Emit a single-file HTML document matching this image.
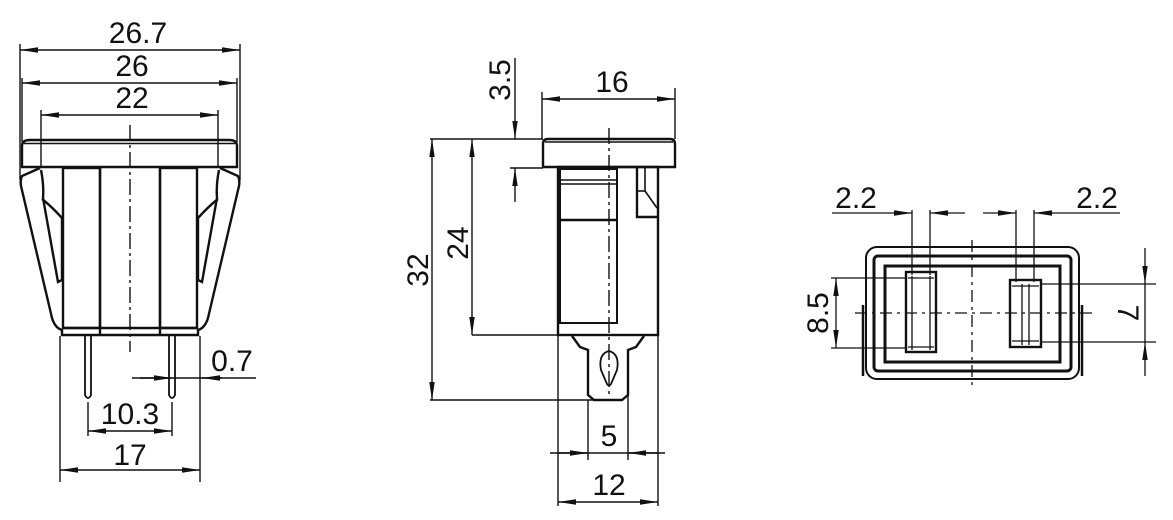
<!DOCTYPE html>
<html><head><meta charset="utf-8"><style>
html,body{margin:0;padding:0;background:#fff;width:1173px;height:520px;overflow:hidden}
svg text{font-family:"Liberation Sans",sans-serif;font-size:30px;fill:#111}
</style></head><body>
<svg width="1173" height="520" viewBox="0 0 1173 520" xmlns="http://www.w3.org/2000/svg">
<defs>
<marker id="a" viewBox="0 0 18 7" refX="18" refY="3.5" markerWidth="18" markerHeight="7" markerUnits="userSpaceOnUse" orient="auto-start-reverse"><path d="M0,0.8 L18,3.5 L0,6.2 Z" fill="#111"/></marker>
</defs>
<g stroke="#111" fill="none" stroke-width="1.4">
<!-- LEFT VIEW -->
<line x1="20" y1="44" x2="20" y2="180"/><line x1="240" y1="44" x2="240" y2="180"/>
<line x1="237" y1="78" x2="237" y2="142"/><line x1="22" y1="78" x2="22" y2="142"/>
<line x1="41" y1="110" x2="41" y2="168"/><line x1="218" y1="110" x2="218" y2="168"/>
<line x1="20" y1="50" x2="240" y2="50" marker-start="url(#a)" marker-end="url(#a)"/>
<line x1="22" y1="83" x2="237" y2="83" marker-start="url(#a)" marker-end="url(#a)"/>
<line x1="41" y1="115" x2="218" y2="115" marker-start="url(#a)" marker-end="url(#a)"/>
<line x1="60" y1="336" x2="60" y2="482"/><line x1="200" y1="336" x2="200" y2="482"/>
<line x1="60" y1="470" x2="200" y2="470" marker-start="url(#a)" marker-end="url(#a)"/>
<line x1="88" y1="402" x2="88" y2="436"/><line x1="172" y1="402" x2="172" y2="436"/>
<line x1="88" y1="431" x2="172" y2="431" marker-start="url(#a)" marker-end="url(#a)"/>
<line x1="132" y1="378" x2="256" y2="378"/>
<line x1="140" y1="378" x2="172" y2="378" marker-end="url(#a)"/>
<line x1="222" y1="378" x2="202" y2="378" marker-end="url(#a)"/>
<line x1="130" y1="125" x2="130" y2="352" stroke-dasharray="16,4,3,4"/>
</g>
<g stroke="#111" fill="none" stroke-width="2.4">
<path d="M22,167 L22,146 Q22,140 30,140 L229,140 Q237,140 237,146 L237,167 Z"/>
<line x1="24" y1="143.5" x2="235" y2="143.5" stroke-width="1.5"/>
<path d="M40,168 L22,176 Q20,180 21,186 L52,318 Q55,328 62,330 L62,335 L198,335 L198,330 Q205,328 208,318 L239,186 Q240,180 238,176 L220,168"/>
<path d="M41,170 Q44,185 43,198 L58,282 L62,280 L62,218 Q50,205 42,199"/>
<path d="M219,170 Q216,185 217,198 L202,282 L198,280 L198,218 Q210,205 218,199"/>
<rect x="63" y="168" width="37" height="160"/><rect x="160" y="168" width="37" height="160"/>
<line x1="100" y1="168" x2="100" y2="335"/><line x1="160" y1="168" x2="160" y2="335"/>
<line x1="62" y1="328" x2="198" y2="328"/>
<path d="M85,336 L85,395 Q88,401 91,395 L91,336" stroke-width="1.8"/>
<path d="M169,336 L169,395 Q172,401 175,395 L175,336" stroke-width="1.8"/>
</g>
<g stroke="#111" fill="none" stroke-width="1.4">
<!-- MIDDLE VIEW -->
<line x1="542" y1="92" x2="542" y2="139"/><line x1="675" y1="88" x2="675" y2="139"/>
<line x1="542" y1="99" x2="675" y2="99" marker-start="url(#a)" marker-end="url(#a)"/>
<line x1="430" y1="139" x2="543" y2="139"/><line x1="510" y1="168" x2="543" y2="168"/>
<line x1="515" y1="58" x2="515" y2="139" marker-end="url(#a)"/>
<line x1="515" y1="202" x2="515" y2="168" marker-end="url(#a)"/>
<line x1="432" y1="139" x2="432" y2="400" marker-start="url(#a)" marker-end="url(#a)"/>
<line x1="472" y1="139" x2="472" y2="335" marker-start="url(#a)" marker-end="url(#a)"/>
<line x1="472" y1="335" x2="560" y2="335"/><line x1="430" y1="400" x2="600" y2="400"/>
<line x1="558" y1="336" x2="558" y2="506"/><line x1="658" y1="336" x2="658" y2="506"/>
<line x1="588" y1="400" x2="588" y2="460"/><line x1="628" y1="390" x2="628" y2="460"/>
<line x1="550" y1="453" x2="665" y2="453"/>
<line x1="558" y1="453" x2="588" y2="453" marker-end="url(#a)"/>
<line x1="658" y1="453" x2="628" y2="453" marker-end="url(#a)"/>
<line x1="558" y1="502" x2="658" y2="502" marker-start="url(#a)" marker-end="url(#a)"/>
<line x1="609" y1="128" x2="609" y2="398" stroke-dasharray="16,4,3,4"/>
</g>
<g stroke="#111" fill="none" stroke-width="2.4">
<path d="M543,167 L543,144 Q543,139 548,139 L670,139 Q675,139 675,144 L675,167 Z"/>
<line x1="545" y1="142" x2="673" y2="142" stroke-width="1.6"/>
<rect x="558" y="167" width="100" height="168"/>
<rect x="560" y="169" width="57" height="154" stroke-width="2"/>
<line x1="560" y1="180" x2="617" y2="180" stroke-width="1.6"/><line x1="560" y1="184" x2="617" y2="184" stroke-width="1.6"/>
<line x1="560" y1="220" x2="617" y2="220"/>
<path d="M637,168 L637,217 L658,217"/><line x1="645" y1="168" x2="645" y2="191" stroke-width="1.6"/>
<line x1="637" y1="191" x2="645" y2="191" stroke-width="1.6"/><line x1="645" y1="191" x2="657" y2="208" stroke-width="1.6"/>
<path d="M572,336 L580,347 L588,350 L588,395 L594,400 L622,400 L628,395 L628,350 L636,347 L644,336"/>
<path d="M609,351 Q620,354 617,370 L611,384 Q609,387 607,384 L601,370 Q598,354 609,351 Z" stroke-width="1.8"/>
<!-- RIGHT VIEW -->
<rect x="866" y="247" width="213" height="132" rx="11" stroke-width="2"/>
<rect x="874" y="256" width="197" height="115" rx="4" stroke-width="3"/>
<rect x="885" y="266" width="175" height="96" stroke-width="3"/>
<rect x="906" y="272" width="30" height="80"/>
<rect x="1010" y="280" width="31" height="67"/>
<line x1="863" y1="305" x2="863" y2="376" stroke-width="2.5"/><line x1="1082" y1="305" x2="1082" y2="376" stroke-width="2.5"/>
</g>
<g stroke="#111" fill="none" stroke-width="1.3">
<line x1="912" y1="210" x2="912" y2="275"/><line x1="930" y1="210" x2="930" y2="275"/>
<line x1="1016" y1="210" x2="1016" y2="282"/><line x1="1034" y1="210" x2="1034" y2="282"/>
<line x1="912" y1="276" x2="912" y2="350"/><line x1="930" y1="276" x2="930" y2="350"/>
<line x1="1022" y1="284" x2="1022" y2="345"/><line x1="1029" y1="284" x2="1029" y2="345"/>
<line x1="908" y1="278" x2="934" y2="278"/><line x1="908" y1="347" x2="934" y2="347"/>
<line x1="1012" y1="286" x2="1039" y2="286"/><line x1="1012" y1="341" x2="1039" y2="341"/>
<line x1="832" y1="213" x2="880" y2="213"/>
<line x1="880" y1="213" x2="912" y2="213" marker-end="url(#a)"/>
<line x1="965" y1="213" x2="930" y2="213" marker-end="url(#a)"/>
<line x1="1120" y1="213" x2="1066" y2="213"/>
<line x1="1066" y1="213" x2="1034" y2="213" marker-end="url(#a)"/>
<line x1="983" y1="213" x2="1016" y2="213" marker-end="url(#a)"/>
<line x1="831" y1="278" x2="906" y2="278"/><line x1="831" y1="348" x2="906" y2="348"/>
<line x1="836" y1="278" x2="836" y2="348" marker-start="url(#a)" marker-end="url(#a)"/>
<line x1="1041" y1="284" x2="1156" y2="284"/><line x1="1041" y1="342" x2="1156" y2="342"/>
<line x1="1145" y1="248" x2="1145" y2="284" marker-end="url(#a)"/>
<line x1="1145" y1="376" x2="1145" y2="342" marker-end="url(#a)"/>
<line x1="1145" y1="284" x2="1145" y2="342"/>
<line x1="855" y1="313" x2="1092" y2="313" stroke-dasharray="12,5,3,5"/>
<line x1="972" y1="240" x2="972" y2="388" stroke-dasharray="12,5,3,5"/>
</g>
<g>
<text x="138" y="43" text-anchor="middle">26.7</text>
<text x="132" y="76" text-anchor="middle">26</text>
<text x="132" y="108" text-anchor="middle">22</text>
<text x="232" y="371" text-anchor="middle">0.7</text>
<text x="130" y="424" text-anchor="middle">10.3</text>
<text x="130" y="465" text-anchor="middle">17</text>
<text x="612" y="92" text-anchor="middle">16</text>
<text x="609" y="446" text-anchor="middle">5</text>
<text x="609" y="495" text-anchor="middle">12</text>
<text transform="translate(510,80) rotate(-90)" text-anchor="middle">3.5</text>
<text transform="translate(428,270) rotate(-90)" text-anchor="middle">32</text>
<text transform="translate(468,243) rotate(-90)" text-anchor="middle">24</text>
<text x="856" y="208" text-anchor="middle">2.2</text>
<text x="1097" y="208" text-anchor="middle">2.2</text>
<text transform="translate(828,313) rotate(-90)" text-anchor="middle">8.5</text>
<text transform="translate(1118,313) rotate(90)" text-anchor="middle">7</text>
</g>
</svg>
</body></html>
